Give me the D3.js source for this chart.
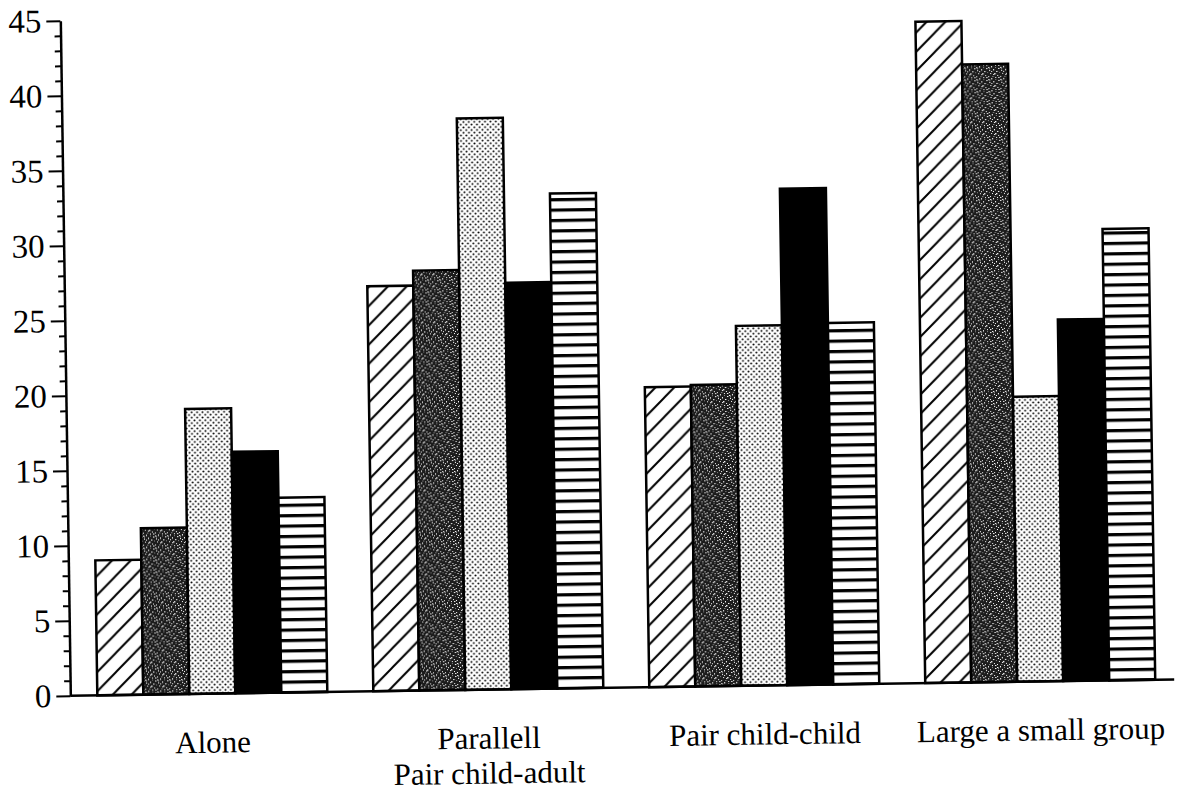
<!DOCTYPE html>
<html>
<head>
<meta charset="utf-8">
<script src="https://cdn.jsdelivr.net/npm/d3@7"></script>
<style>
  html, body { margin: 0; background: #fff; }
  svg { display: block; }
</style>
</head>
<body>
<svg id="chart" width="1184" height="795"></svg>
<script>
// Categories (multi-line labels) and the five fill-coded series
const categoryLines = [
  ["Alone"],
  ["Parallell", "Pair child-adult"],
  ["Pair child-child"],
  ["Large a small group"]
];
const seriesKeys = ["hatched", "stippled", "dotted", "solid", "striped"];

const hatched  = [9.0, 27.0, 20.0, 44.1];
const stippled = [11.1, 28.0, 20.1, 41.2];
const dotted   = [19.0, 38.1, 24.0, 19.0];
const solid    = [16.1, 27.1, 33.1, 24.1];
const striped  = [13.0, 33.0, 24.1, 30.1];

const yMajorTicks = [0, 5, 10, 15, 20, 25, 30, 35, 40, 45];
const yMinorTicks = [1,2,3,4,6,7,8,9,11,12,13,14,16,17,18,19,21,22,23,24,26,27,28,29,31,32,33,34,36,37,38,39,41,42,43,44];

const seriesValues = { hatched, stippled, dotted, solid, striped };

const svg = d3.select("#chart");
const defs = svg.append("defs");
const FONT = "'Liberation Serif', 'Times New Roman', serif";

// ---- fill patterns ----
// diagonal hatch
const pH = defs.append("pattern").attr("id", "pat-hatched")
  .attr("patternUnits", "userSpaceOnUse").attr("width", 19).attr("height", 19);
pH.append("rect").attr("width", 19).attr("height", 19).attr("fill", "#fff");
pH.append("path").attr("d", "M0,19 L19,0 M-4,4 L4,-4 M15,23 L23,15")
  .attr("stroke", "#000").attr("stroke-width", 2);

// dark mottled stipple
const pS = defs.append("pattern").attr("id", "pat-stippled")
  .attr("patternUnits", "userSpaceOnUse").attr("width", 12).attr("height", 12);
pS.append("rect").attr("width", 12).attr("height", 12).attr("fill", "#1c1c1c");
const specks = [[0,1],[3,0],[7,1],[10,2],[1,4],[5,3],[8,5],[11,6],[2,7],[6,7],
                [9,9],[0,10],[4,10],[7,11],[3,5],[10,11],[5,8],[1,2]];
pS.selectAll("rect.s").data(specks).join("rect").attr("class", "s")
  .attr("x", d => d[0]).attr("y", d => d[1])
  .attr("width", (d, i) => i % 3 === 0 ? 1.4 : 1)
  .attr("height", (d, i) => i % 4 === 1 ? 1.4 : 1)
  .attr("fill", (d, i) => i % 5 === 2 ? "#888" : "#fff");

// light halftone dots
const pD = defs.append("pattern").attr("id", "pat-dotted")
  .attr("patternUnits", "userSpaceOnUse").attr("width", 5.4).attr("height", 5.4);
pD.append("rect").attr("width", 5.4).attr("height", 5.4).attr("fill", "#fff");
[[1.35, 1.35], [4.05, 4.05]].forEach(c =>
  pD.append("circle").attr("cx", c[0]).attr("cy", c[1]).attr("r", 1.0).attr("fill", "#000"));

// horizontal stripes
const pT = defs.append("pattern").attr("id", "pat-striped")
  .attr("patternUnits", "userSpaceOnUse").attr("width", 20).attr("height", 10.4);
pT.append("rect").attr("width", 20).attr("height", 10.4).attr("fill", "#fff");
pT.append("rect").attr("y", 0).attr("width", 20).attr("height", 3.2).attr("fill", "#000");

const fills = {
  hatched: "url(#pat-hatched)",
  stippled: "url(#pat-stippled)",
  dotted: "url(#pat-dotted)",
  solid: "#000",
  striped: "url(#pat-striped)"
};

// ---- scales ----
const x0 = d3.scaleBand()
  .domain(d3.range(categoryLines.length))
  .range([70, 1174])
  .paddingInner(1 / 6)
  .paddingOuter(1 / 12);
const x1 = d3.scaleBand().domain(seriesKeys).range([0, x0.bandwidth()]);
const y = d3.scaleLinear().domain([0, 45]).range([688, 13]);
const axisX = 66;

// whole plot sits slightly tilted
const g = svg.append("g").attr("transform", "rotate(-0.85 592 400)");

// ---- bars ----
const groups = g.selectAll("g.cat").data(categoryLines).join("g")
  .attr("class", "cat")
  .attr("transform", (d, i) => `translate(${x0(i)},0)`);

groups.each(function (d, i) {
  d3.select(this).selectAll("rect").data(seriesKeys).join("rect")
    .attr("x", k => x1(k))
    .attr("y", k => y(seriesValues[k][i]))
    .attr("width", x1.bandwidth())
    .attr("height", k => y(0) - y(seriesValues[k][i]))
    .attr("fill", k => fills[k])
    .attr("stroke", "#000")
    .attr("stroke-width", 2.5);
});

// ---- baseline ----
g.append("line")
  .attr("x1", axisX).attr("x2", 1170)
  .attr("y1", y(0)).attr("y2", y(0))
  .attr("stroke", "#000").attr("stroke-width", 2.5);

// ---- y axis: minor then major ticks ----
const minorAxis = g.append("g").attr("transform", `translate(${axisX},0)`)
  .call(d3.axisLeft(y).tickValues(yMinorTicks).tickSize(6).tickSizeOuter(0).tickFormat(""));
minorAxis.select(".domain").remove();
minorAxis.selectAll("line").attr("stroke", "#000").attr("stroke-width", 2);

const majorAxis = g.append("g").attr("transform", `translate(${axisX},0)`)
  .call(d3.axisLeft(y).tickValues(yMajorTicks).tickSize(14).tickSizeOuter(0).tickPadding(5));
majorAxis.select(".domain").attr("stroke", "#000").attr("stroke-width", 2.5);
majorAxis.selectAll(".tick line").attr("stroke", "#000").attr("stroke-width", 2);
majorAxis.selectAll(".tick text")
  .attr("fill", "#000")
  .style("font-family", FONT)
  .style("font-size", "33px");

// ---- category labels ----
const labels = g.append("g").selectAll("text").data(categoryLines).join("text")
  .attr("x", (d, i) => x0(i) + x0.bandwidth() / 2)
  .attr("y", 747)
  .attr("text-anchor", "middle")
  .style("font-family", FONT)
  .style("font-size", "31px")
  .attr("fill", "#000");
labels.selectAll("tspan").data(d => d).join("tspan")
  .attr("x", function () { return d3.select(this.parentNode).attr("x"); })
  .attr("dy", (d, j) => j === 0 ? 0 : 35)
  .text(d => d);
</script>
</body>
</html>
